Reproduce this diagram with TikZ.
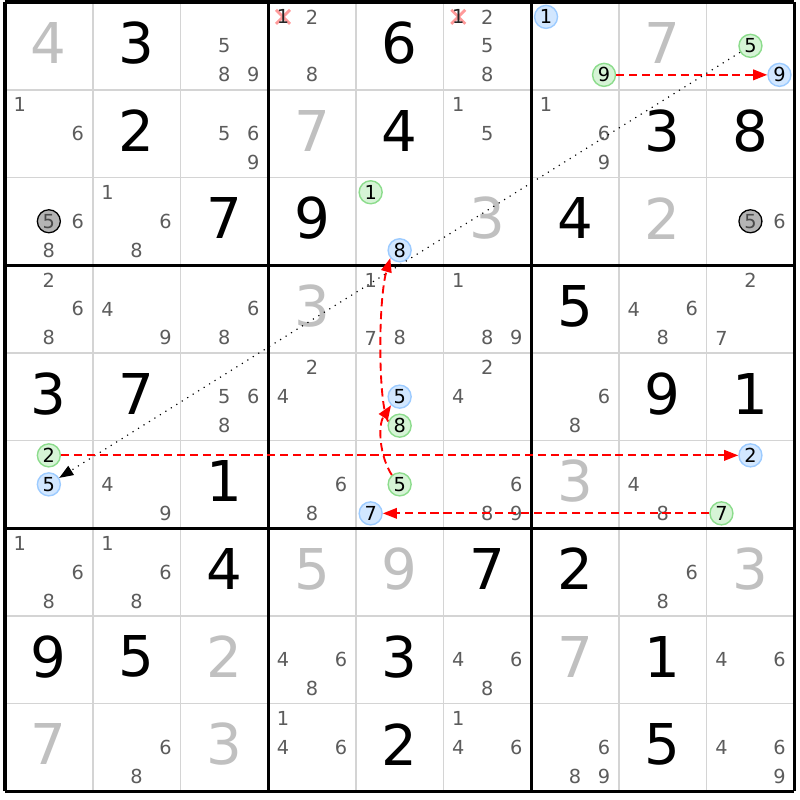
\documentclass[tikz,border=0pt]{standalone}
\usepackage{fontspec}
\setmainfont{DejaVu Sans}
\usetikzlibrary{arrows.meta}
\definecolor{thingray}{HTML}{D4D4D4}
\definecolor{candgray}{HTML}{5C5C5C}
\definecolor{givengray}{HTML}{C0C0C0}
\definecolor{bluefill}{HTML}{D2E7FF}
\definecolor{bluestroke}{HTML}{9CCBFF}
\definecolor{greenfill}{HTML}{D6F4D6}
\definecolor{greenstroke}{HTML}{8CDC8C}
\definecolor{grayfill}{HTML}{B4B4B4}
\definecolor{xpink}{HTML}{FF9A9A}
\definecolor{chainred}{HTML}{FF0000}
\newcommand\candfont{\fontsize{16.5}{16.5}\selectfont}
\newcommand\bigfont{\fontsize{48}{48}\selectfont}
\newcommand\mycand[5]{%
  \pgfmathsetmacro\cx{5+(#3-0.5)*87.7+(mod(#4-1,3)-1)*29}%
  \pgfmathsetmacro\cy{2+(#2-0.5)*87.7+(floor((#4-1)/3)-1)*29}%
  \node[#5] (#1) at (\cx,\cy) {#4};}
\begin{document}
\begin{tikzpicture}[x=0.03cm,y=-0.03cm,
  thinline/.style={draw=thingray,line width=1.5pt},
  thickline/.style={draw=black,line width=2.6pt},
  bigblack/.style={font=\bigfont,text=black,inner sep=0},
  biggray/.style={font=\bigfont,text=givengray,inner sep=0},
  cand/.style={font=\candfont,text=candgray,inner sep=0},
  bluec/.style={circle,draw=bluestroke,fill=bluefill,line width=1.2pt,minimum size=0.69cm,inner sep=0,font=\candfont,text=black},
  greenc/.style={circle,draw=greenstroke,fill=greenfill,line width=1.2pt,minimum size=0.69cm,inner sep=0,font=\candfont,text=black},
  grayc/.style={circle,draw=black,fill=grayfill,line width=1.1pt,minimum size=0.69cm,inner sep=0,font=\candfont,text=candgray!80!black},
  struck/.style={font=\candfont,text=black!85,inner sep=0},
  redlink/.style={draw=chainred,line width=1.6pt,dash pattern=on 7pt off 4pt,-{Triangle[length=12pt,width=9pt]}},
  weaklink/.style={draw=black,line width=1pt,dash pattern=on 1pt off 4.5pt,-{Triangle[length=12pt,width=9pt]}},
  xmark/.style={draw=xpink,line width=2.4pt}
]
\useasboundingbox (0,0) rectangle (800,800);
\fill[white] (0,0) rectangle (800,800);
% grid
\foreach \i in {1,2,4,5,7,8} {
  \draw[thinline] ({5+\i*87.7},2) -- ({5+\i*87.7},791.3);
  \draw[thinline] (5,{2+\i*87.7}) -- (794.3,{2+\i*87.7});
}
\foreach \i in {0,3,6,9} {
  \draw[thickline] ({5+\i*87.7},2) -- ({5+\i*87.7},791.3);
  \draw[thickline] (5,{2+\i*87.7}) -- (794.3,{2+\i*87.7});
}
% solved digits
\foreach \r/\c/\d in {1/2/3,1/5/6,2/2/2,2/5/4,2/8/3,2/9/8,3/3/7,3/4/9,3/7/4,4/7/5,5/1/3,5/2/7,5/8/9,5/9/1,6/3/1,7/3/4,7/6/7,7/7/2,8/1/9,8/2/5,8/5/3,8/8/1,9/5/2,9/8/5}
  \node[bigblack] (s\r\c) at ({5+(\c-0.5)*87.7},{2+(\r-0.5)*87.7-3}) {\d};
% given digits
\foreach \r/\c/\d in {1/1/4,1/8/7,2/4/7,3/6/3,3/8/2,4/4/3,6/7/3,7/4/5,7/5/9,7/9/3,8/3/2,8/7/7,9/1/7,9/3/3}
  \node[biggray] (g\r\c) at ({5+(\c-0.5)*87.7},{2+(\r-0.5)*87.7-3}) {\d};
% plain candidates
\foreach \r/\c/\l in {1/3/{5,8,9},1/4/{2,8},1/6/{2,5,8},2/1/{1,6},2/3/{5,6,9},2/6/{1,5},2/7/{1,6,9},
  3/1/{6,8},3/2/{1,6,8},3/9/{6},4/1/{2,6,8},4/2/{4,9},4/3/{6,8},4/5/{1,7,8},4/6/{1,8,9},4/8/{4,6,8},4/9/{2,7},
  5/3/{5,6,8},5/4/{2,4},5/6/{2,4},5/7/{6,8},6/2/{4,9},6/4/{6,8},6/6/{6,8,9},6/8/{4,8},
  7/1/{1,6,8},7/2/{1,6,8},7/8/{6,8},8/4/{4,6,8},8/6/{4,6,8},8/9/{4,6},
  9/2/{6,8},9/4/{1,4,6},9/6/{1,4,6},9/7/{6,8,9},9/9/{4,6,9}} {
  \foreach \k in \l {
    \mycand{c\r\c\k}{\r}{\c}{\k}{cand}
  }
}
% eliminated candidates
\foreach \c in {4,6} {
  \pgfmathsetmacro\ex{5+(\c-1)*87.7+14.85}
  \draw[xmark] ({\ex-7},{16.85-7}) -- ({\ex+7},{16.85+7});
  \draw[xmark] ({\ex-7},{16.85+7}) -- ({\ex+7},{16.85-7});
  \node[struck] (x1\c) at (\ex,16.85) {1};
}
% highlighted candidates
\mycand{gr31}{3}{1}{5}{grayc}
\mycand{gr39}{3}{9}{5}{grayc}
\mycand{b171}{1}{7}{1}{bluec}
\mycand{g179}{1}{7}{9}{greenc}
\mycand{g195}{1}{9}{5}{greenc}
\mycand{b199}{1}{9}{9}{bluec}
\mycand{g351}{3}{5}{1}{greenc}
\mycand{b358}{3}{5}{8}{bluec}
\mycand{b555}{5}{5}{5}{bluec}
\mycand{g558}{5}{5}{8}{greenc}
\mycand{g612}{6}{1}{2}{greenc}
\mycand{b615}{6}{1}{5}{bluec}
\mycand{g655}{6}{5}{5}{greenc}
\mycand{b657}{6}{5}{7}{bluec}
\mycand{b692}{6}{9}{2}{bluec}
\mycand{g697}{6}{9}{7}{greenc}
% chain links
\draw[redlink] (g179) -- (b199);
\draw[weaklink] (g195) -- (b615);
\draw[redlink] (g612) -- (b692);
\draw[redlink] (g697) -- (b657);
\draw[redlink] (g655.130) .. controls (379,455) and (378,425) .. (b555.225);
\draw[redlink] (g558.160) .. controls (378,405) and (378,300) .. (b358.220);
\end{tikzpicture}
\end{document}
